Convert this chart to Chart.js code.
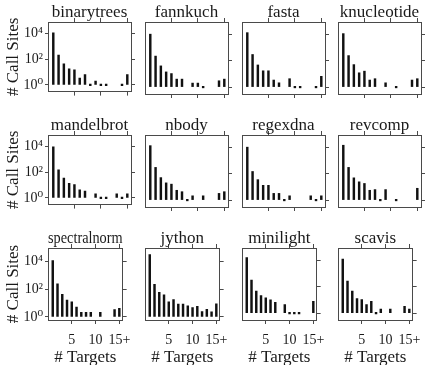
<!DOCTYPE html>
<html>
<head>
<meta charset="utf-8">
<script src="https://cdn.jsdelivr.net/npm/chart.js@4/dist/chart.umd.min.js"></script>
<style>
  html, body { margin: 0; padding: 0; background: #fff; overflow: hidden; }
  body { width: 428px; height: 365px; position: relative; }
  canvas { position: absolute; }
</style>
</head>
<body>
<script>
// benchmarks, in panel order (left to right, top to bottom)
const benchmarks = ['binarytrees', 'fannkuch', 'fasta', 'knucleotide',
                    'mandelbrot', 'nbody', 'regexdna', 'revcomp',
                    'spectralnorm', 'jython', 'minilight', 'scavis'];
const targets = [1, 2, 3, 4, 5, 6, 7, 8, 9, 10, 11, 12, 13, 14, 15];
const xTickValues = [5, 10, 15];
const xTickLabels = ['5', '10', '15+'];
const yTickValues = [1, 100, 10000];
const yTickLabels = ['10⁰', '10²', '10⁴'];

// number of call sites per number of targets (null = none)
const binarytrees  = [12000, 220, 45, 18, 15, 3.4, 6.5, 1, 2, 1, 1, null, null, 1, 6.5];
const fannkuch     = [10000, 220, 40, 14, 10.5, 4, 4, null, 2, 2, 1, null, null, 3, 4];
const fasta        = [13000, 290, 47, 17, 17, 3.4, 2.1, null, 4.3, 1, 1, null, null, 1, 6.5];
const knucleotide  = [11000, 240, 50, 12, 16, 3.4, 4.3, null, 2.1, null, 1, null, null, 3.4, 4.3];
const mandelbrot   = [10000, 155, 35, 14, 11, 4.3, 3.4, null, 2.1, 1, 1, null, 2.1, 1, 2.1];
const nbody        = [13000, 295, 50, 20, 16, 5.5, 4.3, 1, 2.1, null, 2.1, null, null, 3.2, 4.3];
const regexdna     = [10000, 145, 35, 13, 13, 3.2, 3.2, 1, 2.1, null, null, null, 2.1, 1, 2.1];
const revcomp      = [14000, 295, 48, 24, 18, 5.5, 6.2, 1, 6.2, null, 1, null, null, null, 7.8];
const spectralnorm = [12000, 250, 43, 17, 12.6, 5.2, 2.2, 2.2, 2.2, null, 2.2, null, null, 3.4, 4.2];
const jython       = [34000, 236, 60, 40, 12.6, 18, 8.6, 8.6, 6.5, 4.7, 5.8, 2.4, 3.6, 2.3, 9];
const minilight    = [16000, 316, 46, 21, 14, 10, 6.5, null, 4.3, 1, 1, 1, null, null, 7.8];
const scavis       = [12000, 265, 46, 12.5, 10.5, 4.3, 7.8, 1, 2, null, 2, null, null, 3.2, 2];

const series = [binarytrees, fannkuch, fasta, knucleotide,
                mandelbrot, nbody, regexdna, revcomp,
                spectralnorm, jython, minilight, scavis];

// layout of the panel grid
const panelLeft = [48, 145, 242, 338];
const panelTop = [22, 135, 248];
const panelW = 83, panelH = 72;
const lineColor = '#4a4a4a';

Chart.defaults.font.family = '"Liberation Serif", "DejaVu Serif", serif';
Chart.defaults.color = '#1a1a1a';

function fixed(prop, size) {
    return function (scale) { scale[prop] = size; };
}

function makePanel(i) {
    const row = Math.floor(i / 4), col = i % 4;
    const firstCol = col === 0, lastRow = row === 2;
    const padL = firstCol ? panelLeft[0] : 6;
    const padR = 8, padT = 22;
    const padB = lastRow ? 50 : 8;

    const canvas = document.createElement('canvas');
    canvas.width = panelW + padL + padR;
    canvas.height = panelH + padT + padB;
    canvas.style.left = (panelLeft[col] - padL) + 'px';
    canvas.style.top = (panelTop[row] - padT) + 'px';
    document.body.appendChild(canvas);

    // bottom-left panels have a slightly tighter log range
    const tight = lastRow && col < 2;
    const yMin = tight ? Math.pow(10, -0.19) : Math.pow(10, -0.51);
    const yMax = tight ? Math.pow(10, 5.0) : Math.pow(10, 4.92);

    const xTicks = function (axis) { axis.ticks = xTickValues.map(v => ({ value: v })); };
    const yTicks = function (axis) { axis.ticks = yTickValues.map(v => ({ value: v })); };
    const grid = { drawOnChartArea: false, drawTicks: true, tickLength: 4, color: lineColor, offset: false };
    const border = { display: true, color: lineColor, width: 1 };

    new Chart(canvas, {
        type: 'bar',
        data: {
            datasets: [{
                data: series[i].map((v, k) => ({ x: targets[k], y: v })),
                backgroundColor: '#111',
                barThickness: 1.8,
                minBarLength: 1.5,
                base: 1,
                xAxisID: 'x',
                yAxisID: 'y'
            }]
        },
        options: {
            responsive: false,
            animation: false,
            events: [],
            layout: { padding: 0, autoPadding: false },
            plugins: { legend: { display: false }, tooltip: { enabled: false } },
            scales: {
                x: {
                    type: 'linear', position: 'bottom', min: 0, max: 15.7, offset: false,
                    afterBuildTicks: xTicks, afterFit: fixed('height', padB),
                    grid: grid, border: border,
                    ticks: {
                        display: lastRow, padding: 8, maxRotation: 0, autoSkip: false,
                        font: { size: 14 },
                        callback: (v, idx) => xTickLabels[idx]
                    },
                    title: { display: lastRow, text: '# Targets', font: { size: 17 }, padding: { top: 0, bottom: 2 } }
                },
                x2: {
                    type: 'linear', position: 'top', min: 0, max: 15.7, offset: false,
                    afterBuildTicks: xTicks, afterFit: fixed('height', padT),
                    grid: grid, border: border,
                    ticks: { display: false },
                    title: { display: true, text: benchmarks[i], font: { size: 17 }, padding: { top: 2, bottom: 0 } }
                },
                y: {
                    type: 'logarithmic', position: 'left', min: yMin, max: yMax, beginAtZero: false,
                    afterBuildTicks: yTicks, afterFit: fixed('width', padL),
                    grid: Object.assign({}, grid, { drawTicks: firstCol, tickLength: 3 }), border: border,
                    ticks: {
                        display: firstCol, padding: 2, font: { size: 14 },
                        callback: (v, idx) => yTickLabels[idx]
                    },
                    title: { display: firstCol, text: '# Call Sites', font: { size: 17 }, padding: { top: 3, bottom: 0 } }
                },
                y2: {
                    type: 'logarithmic', position: 'right', min: yMin, max: yMax,
                    afterBuildTicks: yTicks, afterFit: fixed('width', padR),
                    grid: grid, border: border,
                    ticks: { display: false }
                }
            }
        }
    });
}

benchmarks.forEach((b, i) => makePanel(i));
</script>
</body>
</html>
